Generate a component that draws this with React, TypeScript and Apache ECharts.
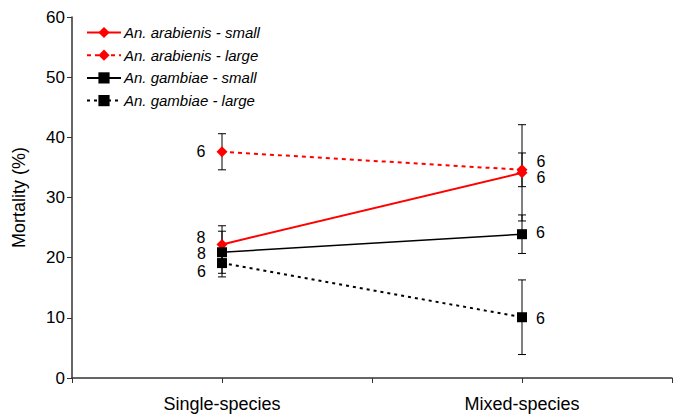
import React, { useEffect, useRef } from "react";
import * as echarts from "echarts";

const categories = ["", "Single-species", "", "Mixed-species", ""];
const xIndex = [1, 3];
const seriesNames = [
  "An. arabienis - small",
  "An. arabienis - large",
  "An. gambiae - small",
  "An. gambiae - large",
];
const arabSmall = [22.2, 34.1];
const arabSmallErr = [3.1, 8.0];
const arabSmallN = [8, 6];
const arabLarge = [37.6, 34.6];
const arabLargeErr = [3.0, 2.8];
const arabLargeN = [6, 6];
const gambSmall = [20.9, 23.9];
const gambSmallErr = [3.5, 3.2];
const gambSmallN = [8, 6];
const gambLarge = [19.1, 10.1];
const gambLargeErr = [2.3, 6.2];
const gambLargeN = [6, 6];
const yTicks = { min: 0, max: 60, interval: 10 };

const FONT = "Arial, 'Liberation Sans', sans-serif";

export default function App() {
  const ref = useRef<HTMLDivElement>(null);
  useEffect(() => {
    document.body.style.margin = "0";
    const chart = echarts.init(ref.current!, null, { renderer: "svg" });

    const means = [arabSmall, arabLarge, gambSmall, gambLarge];
    const errs = [arabSmallErr, arabLargeErr, gambSmallErr, gambLargeErr];
    const ns = [arabSmallN, arabLargeN, gambSmallN, gambLargeN];
    const colors = ["#ff0000", "#ff0000", "#000000", "#000000"];
    const lineTypes: any[] = ["solid", [4, 4], "solid", [3, 4]];
    const lineWidths = [2, 2, 1.5, 2];
    const symbols = ["diamond", "diamond", "rect", "rect"];
    const symbolSizes = [11, 11, 10, 10];
    // label vertical offsets to avoid overlapping [single, mixed]
    const labelDy = [
      [-7, 5],
      [0, -8],
      [1, -2],
      [8, 1],
    ];

    const errData: any[] = [];
    means.forEach((m, s) => {
      m.forEach((v, i) => {
        errData.push([xIndex[i], v - errs[s][i], v + errs[s][i]]);
      });
    });

    const lineSeries = means.map((m, s) => ({
      name: seriesNames[s],
      type: "line",
      z: 3,
      data: m.map((v, i) => ({
        value: [xIndex[i], v],
        label: {
          show: true,
          formatter: String(ns[s][i]),
          position: i === 0 ? "left" : "right",
          distance: i === 0 ? 11 : 9,
          offset: [0, labelDy[s][i]],
          color: "#000",
          fontSize: 16,
          fontFamily: FONT,
        },
      })),
      symbol: symbols[s],
      symbolSize: symbolSizes[s],
      itemStyle: { color: colors[s] },
      lineStyle: { color: colors[s], width: lineWidths[s], type: lineTypes[s] },
    }));

    chart.setOption({
      animation: false,
      textStyle: { fontFamily: FONT },
      grid: { left: 72, right: 3, top: 17, bottom: 37, containLabel: false },
      legend: {
        orient: "vertical",
        left: 86,
        top: 25,
        padding: 0,
        itemWidth: 34,
        itemHeight: 14,
        itemGap: 7.7,
        data: seriesNames,
        textStyle: {
          fontStyle: "italic",
          fontSize: 15,
          color: "#000",
          fontFamily: FONT,
          padding: [0, 0, 0, -2],
        },
      },
      xAxis: {
        type: "category",
        data: categories,
        boundaryGap: false,
        axisLine: { lineStyle: { color: "#333", width: 1.5 } },
        axisTick: { show: true, length: 5, lineStyle: { color: "#333" } },
        axisLabel: { color: "#000", fontSize: 18, margin: 17, interval: 0, fontFamily: FONT },
        splitLine: { show: false },
      },
      yAxis: {
        type: "value",
        min: yTicks.min,
        max: yTicks.max,
        interval: yTicks.interval,
        name: "Mortality (%)",
        nameLocation: "middle",
        nameGap: 44,
        nameTextStyle: { color: "#000", fontSize: 18, fontFamily: FONT },
        axisLine: { show: true, lineStyle: { color: "#333", width: 1.5 } },
        axisTick: { show: true, length: 5, lineStyle: { color: "#333" } },
        axisLabel: { color: "#000", fontSize: 17, margin: 7, fontFamily: FONT },
        splitLine: { show: false },
      },
      series: [
        ...lineSeries,
        {
          type: "custom",
          z: 1,
          silent: true,
          data: errData,
          renderItem: (params: any, api: any) => {
            const x = api.value(0);
            const lo = api.coord([x, api.value(1)]);
            const hi = api.coord([x, api.value(2)]);
            const w = 4;
            const st = { stroke: "#000", lineWidth: 1 };
            return {
              type: "group",
              children: [
                { type: "line", shape: { x1: lo[0], y1: lo[1], x2: hi[0], y2: hi[1] }, style: st },
                { type: "line", shape: { x1: lo[0] - w, y1: lo[1], x2: lo[0] + w, y2: lo[1] }, style: st },
                { type: "line", shape: { x1: hi[0] - w, y1: hi[1], x2: hi[0] + w, y2: hi[1] }, style: st },
              ],
            };
          },
        },
      ],
    });
    return () => chart.dispose();
  }, []);
  return <div ref={ref} style={{ width: 675, height: 415 }} />;
}
